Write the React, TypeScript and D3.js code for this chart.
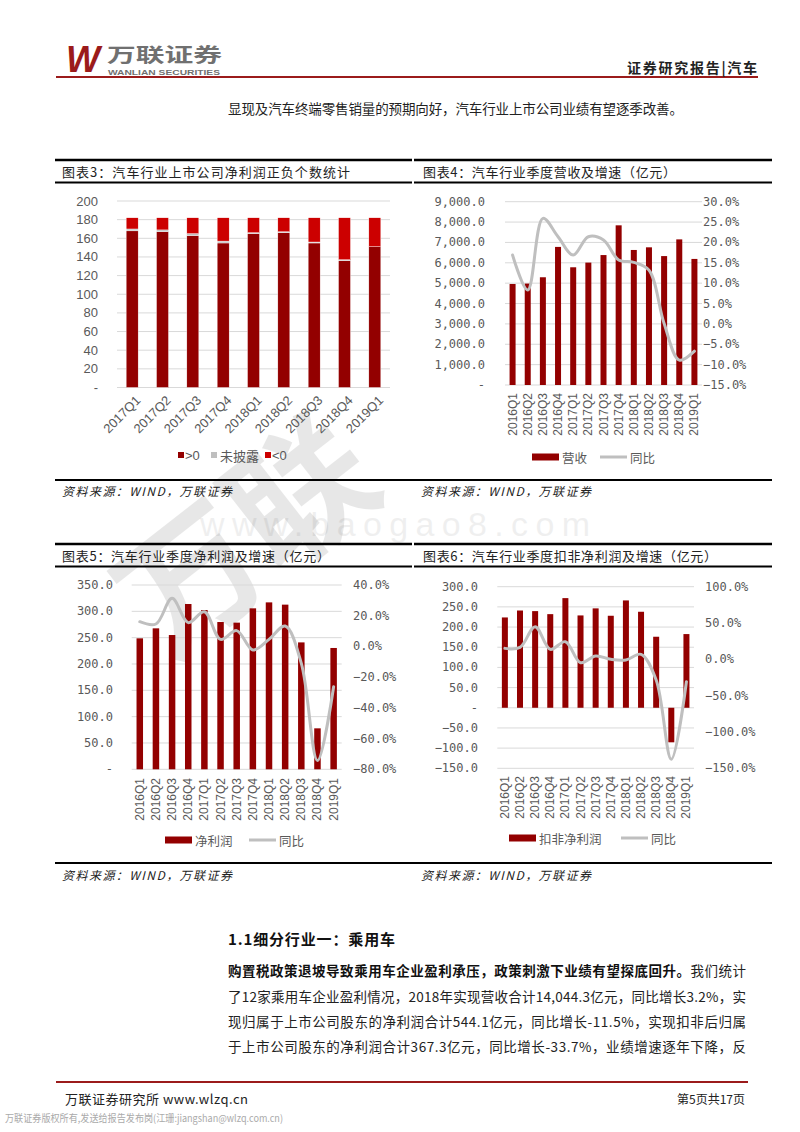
import React from 'react';
import * as d3 from 'd3';

// ---------- DATA ----------
const quartersA = ['2017Q1', '2017Q2', '2017Q3', '2017Q4', '2018Q1', '2018Q2', '2018Q3', '2018Q4', '2019Q1'];
const positiveCount = [168, 167, 163, 155, 165, 166, 155, 136, 151];
const undisclosedCount = [2, 2, 2, 2, 1, 1, 1, 1, 0];
const negativeCount = [12, 13, 17, 25, 16, 15, 26, 45, 31];
const countTicks = [0, 20, 40, 60, 80, 100, 120, 140, 160, 180, 200];

const quartersB = ['2016Q1', '2016Q2', '2016Q3', '2016Q4', '2017Q1', '2017Q2', '2017Q3', '2017Q4', '2018Q1', '2018Q2', '2018Q3', '2018Q4', '2019Q1'];

const revenue = [4960, 4980, 5290, 6780, 5780, 6010, 6380, 7840, 6630, 6760, 6330, 7150, 6190];
const revenueYoY = [16.9, 8.3, 25.9, 21.4, 16.9, 21.4, 20.6, 15.7, 15.1, 13.2, 0.1, -8.9, -6.7];
const revenueTicksLeft = [0, 1000, 2000, 3000, 4000, 5000, 6000, 7000, 8000, 9000];
const revenueTicksRight = [-15, -10, -5, 0, 5, 10, 15, 20, 25, 30];

const netProfit = [248.7, 267.7, 255.0, 313.9, 302.5, 279.7, 278.5, 305.7, 317.0, 312.7, 241.0, 77.8, 230.4];
const netProfitYoY = [16.1, 14.6, 31.3, 15.5, 22.6, 4.6, 10.3, -2.3, 4.6, 13.3, -11.0, -74.3, -26.2];
const netTicksLeft = [0, 50, 100, 150, 200, 250, 300, 350];
const netTicksRight = [-80, -60, -40, -20, 0, 20, 40];

const deductedProfit = [223.8, 241.0, 239.5, 232.0, 271.7, 228.8, 246.3, 228.0, 266.0, 237.9, 176.0, -85.6, 182.6];
const deductedYoY = [15.1, 16.5, 45.0, 13.8, 24.3, -4.6, 4.6, 0.0, -0.9, 6.9, -28.4, -137.6, -30.7];
const dedTicksLeft = [-150, -100, -50, 0, 50, 100, 150, 200, 250, 300];
const dedTicksRight = [-150, -100, -50, 0, 50, 100];

// ---------- STYLE ----------
const CJK = '"Noto Sans CJK SC", "Noto Sans", sans-serif';
const MONO = '"DejaVu Sans Mono", "Liberation Mono", monospace';
const LAT = '"Liberation Sans", Arial, sans-serif';
const BAR = '#930000';
const NEG = '#CC0000';
const GRAYBAR = '#BFBFBF';
const LINE = '#BFBFBF';
const GRID = '#D9D9D9';
const LABEL = '#595959';
const BRAND = '#9B1B1B';

const fmtComma = d3.format(',.1f');
const fmt1 = d3.format('.1f');

function StackedChart() {
  const x = d3.scaleBand<string>().domain(quartersA).range([117, 390]).padding(0);
  const y = d3.scaleLinear().domain([0, 200]).range([387.5, 201]);
  const bw = 12;
  const series = [
    { key: '>0', values: positiveCount, color: BAR },
    { key: '未披露', values: undisclosedCount, color: GRAYBAR },
    { key: '<0', values: negativeCount, color: NEG },
  ];
  const stacked = quartersA.map((q, i) => {
    let acc = 0;
    return series.map((s) => {
      const y0 = acc;
      acc += s.values[i];
      return { q, y0, y1: acc, color: s.color };
    });
  });
  return (
    <g>
      {countTicks.map((t) => (
        <g key={t}>
          <line x1={117} x2={390} y1={y(t)} y2={y(t)} stroke={GRID} strokeWidth={1} />
          <text x={98} y={y(t)} textAnchor="end" dominantBaseline="central" fontFamily={LAT} fontSize={13} fill={LABEL}>
            {t === 0 ? '-' : t}
          </text>
        </g>
      ))}
      {stacked.map((segs, i) =>
        segs.map((s, j) =>
          s.y1 > s.y0 ? (
            <rect key={`${i}-${j}`} x={(x(s.q) as number) + x.bandwidth() / 2 - bw / 2} y={y(s.y1)} width={bw} height={y(s.y0) - y(s.y1)} fill={s.color} stroke="#fff" strokeWidth={0.4} />
          ) : null
        )
      )}
      {quartersA.map((q) => {
        const cx = (x(q) as number) + x.bandwidth() / 2;
        return (
          <text key={q} transform={`translate(${cx + 6},${398}) rotate(-45)`} textAnchor="end" dominantBaseline="central" fontFamily={LAT} fontSize={13} fill={LABEL}>
            {q}
          </text>
        );
      })}
      {/* legend */}
      <g fontFamily={CJK} fontSize={13} fill={LABEL}>
        <rect x={178} y={452} width={6} height={6} fill={BAR} />
        <text x={185} y={455} dominantBaseline="central" fontFamily={LAT}>{'>0'}</text>
        <rect x={211} y={452} width={6} height={6} fill={GRAYBAR} />
        <text x={220} y={455} dominantBaseline="central">未披露</text>
        <rect x={265} y={452} width={6} height={6} fill={NEG} />
        <text x={272} y={455} dominantBaseline="central" fontFamily={LAT}>{'<0'}</text>
      </g>
    </g>
  );
}

type DualCfg = {
  cats: string[];
  bars: number[];
  yoy: number[];
  leftTicks: number[];
  rightTicks: number[];
  leftFmt: (v: number) => string;
  rightFmt: (v: number) => string;
  x0: number; x1: number; yTop: number; yBottom: number;
  leftLabelX: number; rightLabelX: number; xLabelY: number;
  barW: number;
  legendY: number; legendX: number; barName: string; lineX: number;
};

function DualChart({ c }: { c: DualCfg }) {
  const x = d3.scaleBand<string>().domain(c.cats).range([c.x0, c.x1]).padding(0);
  const yL = d3.scaleLinear().domain(d3.extent(c.leftTicks) as [number, number]).range([c.yBottom, c.yTop]);
  const yR = d3.scaleLinear().domain(d3.extent(c.rightTicks) as [number, number]).range([c.yBottom, c.yTop]);
  const cx = (q: string) => (x(q) as number) + x.bandwidth() / 2;
  const lineGen = d3
    .line<number>()
    .x((_, i) => cx(c.cats[i]))
    .y((d) => yR(d))
    .curve(d3.curveCatmullRom.alpha(0.5));
  return (
    <g>
      {c.leftTicks.map((t) => (
        <g key={'l' + t}>
          <line x1={c.x0} x2={c.x1} y1={yL(t)} y2={yL(t)} stroke={GRID} strokeWidth={1} />
          <text x={c.leftLabelX} y={yL(t)} textAnchor="end" dominantBaseline="central" fontFamily={MONO} fontSize={12} fill={LABEL}>
            {c.leftFmt(t)}
          </text>
        </g>
      ))}
      {c.rightTicks.map((t) => (
        <text key={'r' + t} x={c.rightLabelX} y={yR(t)} dominantBaseline="central" fontFamily={MONO} fontSize={12} fill={LABEL}>
          {c.rightFmt(t)}
        </text>
      ))}
      {c.bars.map((v, i) => (
        <rect key={i} x={cx(c.cats[i]) - c.barW / 2} y={Math.min(yL(v), yL(0))} width={c.barW} height={Math.abs(yL(v) - yL(0))} fill={BAR} />
      ))}
      <path d={lineGen(c.yoy) || ''} fill="none" stroke={LINE} strokeWidth={3} strokeLinejoin="round" strokeLinecap="round" />
      {c.cats.map((q) => (
        <text key={q} transform={`translate(${cx(q)},${c.xLabelY}) rotate(-90)`} textAnchor="end" dominantBaseline="central" fontFamily={LAT} fontSize={12} fill={LABEL}>
          {q}
        </text>
      ))}
      <g fontFamily={CJK} fontSize={12.5} fill={LABEL}>
        <rect x={c.legendX} y={c.legendY - 3.5} width={27} height={7} fill={BAR} />
        <text x={c.legendX + 30} y={c.legendY} dominantBaseline="central">{c.barName}</text>
        <line x1={c.lineX} x2={c.lineX + 27} y1={c.legendY} y2={c.legendY} stroke={LINE} strokeWidth={3} />
        <text x={c.lineX + 30} y={c.legendY} dominantBaseline="central">同比</text>
      </g>
    </g>
  );
}

const chart4: DualCfg = {
  cats: quartersB, bars: revenue, yoy: revenueYoY,
  leftTicks: revenueTicksLeft, rightTicks: revenueTicksRight,
  leftFmt: (v) => (v === 0 ? '-' : fmtComma(v)), rightFmt: (v) => fmt1(v) + '%',
  x0: 505, x1: 702, yTop: 201.7, yBottom: 385,
  leftLabelX: 485, rightLabelX: 703, xLabelY: 393, barW: 6,
  legendY: 457, legendX: 532, barName: '营收', lineX: 600,
};
const chart5: DualCfg = {
  cats: quartersB, bars: netProfit, yoy: netProfitYoY,
  leftTicks: netTicksLeft, rightTicks: netTicksRight,
  leftFmt: (v) => (v === 0 ? '-' : fmt1(v)), rightFmt: (v) => fmt1(v) + '%',
  x0: 131.7, x1: 341.7, yTop: 585, yBottom: 769.3,
  leftLabelX: 113, rightLabelX: 353, xLabelY: 778, barW: 6.5,
  legendY: 840, legendX: 165, barName: '净利润', lineX: 249,
};
const chart6: DualCfg = {
  cats: quartersB, bars: deductedProfit, yoy: deductedYoY,
  leftTicks: dedTicksLeft, rightTicks: dedTicksRight,
  leftFmt: (v) => (v === 0 ? '-' : fmt1(v)), rightFmt: (v) => fmt1(v) + '%',
  x0: 497.3, x1: 694, yTop: 586.7, yBottom: 768.3,
  leftLabelX: 478, rightLabelX: 705, xLabelY: 776, barW: 6,
  legendY: 838, legendX: 509, barName: '扣非净利润', lineX: 621,
};

function TitleBar({ x1, x2, yTop, yBot, title, tx, tw }: { x1: number; x2: number; yTop: number; yBot: number; title: string; tx: number; tw: number }) {
  return (
    <g>
      <line x1={x1} x2={x2} y1={yTop} y2={yTop} stroke="#000" strokeWidth={2.5} />
      <line x1={x1} x2={x2} y1={yBot} y2={yBot} stroke="#000" strokeWidth={2} />
      <text x={tx} y={(yTop + yBot) / 2 + 0.5} dominantBaseline="central" fontFamily={CJK} fontSize={13} fill="#222" textLength={tw} lengthAdjust="spacing">
        {title}
      </text>
    </g>
  );
}

function Source({ x, y }: { x: number; y: number }) {
  return (
    <text x={x} y={y} dominantBaseline="central" fontFamily={CJK} fontSize={12} fontStyle="italic" fill="#222" textLength={170} lengthAdjust="spacing">
      资料来源：WIND，万联证券
    </text>
  );
}

export default function App() {
  return (
    <svg width={800} height={1132} viewBox="0 0 800 1132" style={{ position: 'absolute', left: 0, top: 0, background: '#fff' }}>
      <rect x={0} y={0} width={800} height={1132} fill="#fff" />
      {/* header */}
      <text x={66} y={72} fontFamily={LAT} fontWeight="bold" fontStyle="italic" fontSize={36} fill={BRAND}>W</text>
      <text x={107} y={62} fontFamily={CJK} fontWeight="bold" fontSize={19} fill="#707070" textLength={115} lengthAdjust="spacingAndGlyphs">万联证券</text>
      <text x={108} y={74.5} fontFamily={LAT} fontWeight="bold" fontSize={8} fill="#707070" textLength={112} lengthAdjust="spacingAndGlyphs">WANLIAN SECURITIES</text>
      <line x1={56} x2={758} y1={77} y2={77} stroke={BRAND} strokeWidth={2.2} />
      <text x={757} y={67} textAnchor="end" dominantBaseline="central" fontFamily={CJK} fontWeight="bold" fontSize={14} fill="#222" textLength={130} lengthAdjust="spacing">证券研究报告|汽车</text>
      <text x={228} y={108} dominantBaseline="central" fontFamily={CJK} fontSize={13.5} fill="#222" textLength={455} lengthAdjust="spacing">
        显现及汽车终端零售销量的预期向好，汽车行业上市公司业绩有望逐季改善。
      </text>

      {/* watermark (behind content) */}
      <g opacity={0.11} fill="#333" fontFamily={CJK} fontWeight="bold">
        <text transform="translate(240,528) rotate(-38)" textAnchor="middle" dominantBaseline="central" fontSize={140}>万联</text>
      </g>
      <text x={200} y={536} fontSize={34} fontFamily={LAT} fill="#000" opacity={0.06} textLength={390} lengthAdjust="spacing">www.baogao8.com</text>

      {/* top panels */}
      <TitleBar x1={55} x2={412} yTop={160} yBot={182.5} title="图表3：汽车行业上市公司净利润正负个数统计" tx={62} tw={288} />
      <TitleBar x1={414} x2={772} yTop={160} yBot={182.5} title="图表4：汽车行业季度营收及增速（亿元）" tx={423} tw={253} />
      <StackedChart />
      <DualChart c={chart4} />
      <line x1={55} x2={772} y1={480} y2={480} stroke="#000" strokeWidth={2} />
      <Source x={62} y={490} />
      <Source x={421} y={490} />

      {/* bottom panels */}
      <TitleBar x1={55} x2={412} yTop={544} yBot={566.5} title="图表5：汽车行业季度净利润及增速（亿元）" tx={62} tw={268} />
      <TitleBar x1={414} x2={772} yTop={544} yBot={566.5} title="图表6：汽车行业季度扣非净利润及增速（亿元）" tx={423} tw={294} />
      <DualChart c={chart5} />
      <DualChart c={chart6} />
      <line x1={55} x2={772} y1={863} y2={863} stroke="#000" strokeWidth={2} />
      <Source x={62} y={874} />
      <Source x={421} y={874} />

      {/* section */}
      <text x={228} y={938} dominantBaseline="central" fontFamily={CJK} fontWeight="bold" fontSize={15} fill="#111" textLength={167} lengthAdjust="spacing">1.1细分行业一：乘用车</text>
      <g fontFamily={CJK} fontSize={13.5} fill="#222">
        <text x={228} y={970} dominantBaseline="central" textLength={518} lengthAdjust="spacing">
          <tspan fontWeight="bold" fill="#111">购置税政策退坡导致乘用车企业盈利承压，政策刺激下业绩有望探底回升。</tspan>
          <tspan>我们统计</tspan>
        </text>
        <text x={228} y={996} dominantBaseline="central" textLength={518} lengthAdjust="spacing">了12家乘用车企业盈利情况，2018年实现营收合计14,044.3亿元，同比增长3.2%，实</text>
        <text x={228} y={1021} dominantBaseline="central" textLength={518} lengthAdjust="spacing">现归属于上市公司股东的净利润合计544.1亿元，同比增长-11.5%，实现扣非后归属</text>
        <text x={228} y={1046} dominantBaseline="central" textLength={518} lengthAdjust="spacing">于上市公司股东的净利润合计367.3亿元，同比增长-33.7%，业绩增速逐年下降，反</text>
      </g>

      {/* footer */}
      <line x1={56} x2={748} y1={1082} y2={1082} stroke={BRAND} strokeWidth={2} />
      <text x={65} y={1098} dominantBaseline="central" fontFamily={CJK} fontSize={13} fill="#222" textLength={183} lengthAdjust="spacing">万联证券研究所 www.wlzq.cn</text>
      <text x={745} y={1098} textAnchor="end" dominantBaseline="central" fontFamily={CJK} fontSize={12} fill="#222">第5页共17页</text>
      <text x={5} y={1117} dominantBaseline="central" fontFamily={CJK} fontSize={10} fill="#aaa" textLength={278} lengthAdjust="spacingAndGlyphs">万联证券版权所有,发送给报告发布岗(江珊:jiangshan@wlzq.com.cn)</text>
    </svg>
  );
}
